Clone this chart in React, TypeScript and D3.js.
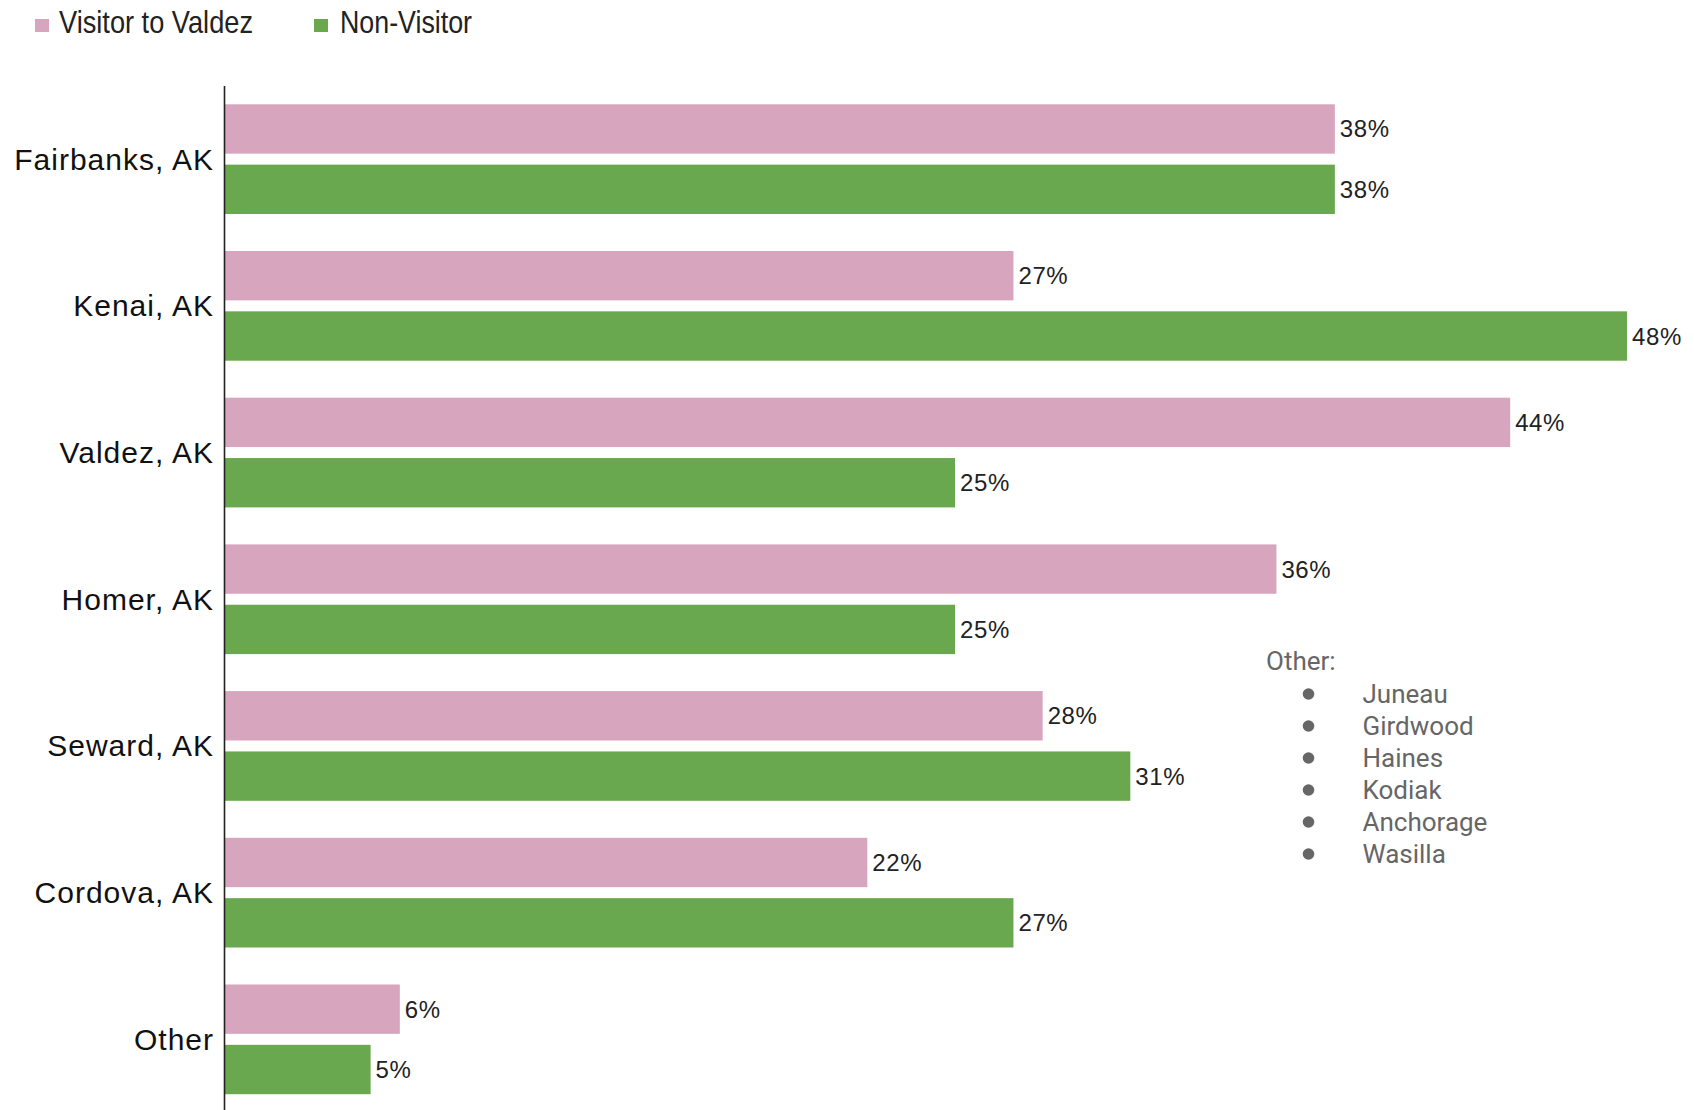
import React from "react";
import * as d3 from "d3";

const categories = ["Fairbanks, AK", "Kenai, AK", "Valdez, AK", "Homer, AK", "Seward, AK", "Cordova, AK", "Other"];
const seriesNames = ["Visitor to Valdez", "Non-Visitor"];
const visitorValues = [38, 27, 44, 36, 28, 22, 6];
const nonVisitorValues = [38, 48, 25, 25, 31, 27, 5];
const seriesColors = ["#d8a5be", "#69a84f"];
const otherTitle = "Other:";
const otherPlaces = ["Juneau", "Girdwood", "Haines", "Kodiak", "Anchorage", "Wasilla"];

const W = 1694;
const H = 1110;
const AXIS_X = 224.5;
const PX_PER_PCT = 29.22;

export default function App() {
  const x = d3.scaleLinear().domain([0, 48]).range([AXIS_X, AXIS_X + 48 * PX_PER_PCT]);
  const y0 = d3.scaleBand<string>().domain(categories).range([104.3, 1094.2]).paddingInner(0.2522).paddingOuter(0);
  const y1 = d3.scaleBand<string>().domain(seriesNames).range([0, y0.bandwidth()]).paddingInner(0.182).paddingOuter(0);
  const seriesValues = [visitorValues, nonVisitorValues];
  const labelFont = "'Liberation Sans', Arial, Helvetica, sans-serif";
  const legendFont = "'Liberation Sans', Arial, sans-serif";
  const listFont = "Roboto, 'Noto Sans', sans-serif";

  return (
    <svg width={W} height={H} style={{ position: "absolute", left: 0, top: 0, background: "#fff" }}>
      <rect x={0} y={0} width={W} height={H} fill="#fff" />
      {/* legend */}
      <g fontFamily={legendFont} fontSize={32} fill="#222">
        <rect x={35} y={19} width={14} height={13} fill={seriesColors[0]} />
        <text x={59} y={33} textLength={194} lengthAdjust="spacingAndGlyphs">{seriesNames[0]}</text>
        <rect x={314} y={19} width={14} height={13} fill={seriesColors[1]} />
        <text x={340} y={33} textLength={132} lengthAdjust="spacingAndGlyphs">{seriesNames[1]}</text>
      </g>
      {/* bars */}
      {categories.map((c, i) => (
        <g key={c} transform={`translate(0,${y0(c)})`}>
          {seriesNames.map((s, j) => {
            const v = seriesValues[j][i];
            const yy = y1(s)!;
            return (
              <g key={s}>
                <rect x={x(0)} y={yy} width={x(v) - x(0)} height={y1.bandwidth()} fill={seriesColors[j]} />
                <text
                  x={x(v) + 5}
                  y={yy + y1.bandwidth() / 2}
                  dominantBaseline="central"
                  fontFamily={labelFont}
                  fontSize={24}
                  letterSpacing={0.6}
                  fill="#222"
                >
                  {v}%
                </text>
              </g>
            );
          })}
          <text
            x={214}
            y={y0.bandwidth() / 2}
            dominantBaseline="central"
            textAnchor="end"
            fontFamily={labelFont}
            fontSize={30}
            letterSpacing={1}
            fill="#111"
          >
            {c}
          </text>
        </g>
      ))}
      {/* axis */}
      <line x1={AXIS_X} x2={AXIS_X} y1={86} y2={H} stroke="#222" strokeWidth={1.6} />
      {/* other annotation */}
      <g fontFamily={listFont} fontSize={26} fill="#666">
        <text x={1266} y={670}>{otherTitle}</text>
        {otherPlaces.map((p, i) => (
          <g key={p}>
            <circle cx={1308.5} cy={694 + i * 32} r={5.8} fill="#666" />
            <text x={1362.5} y={703 + i * 32}>{p}</text>
          </g>
        ))}
      </g>
    </svg>
  );
}
